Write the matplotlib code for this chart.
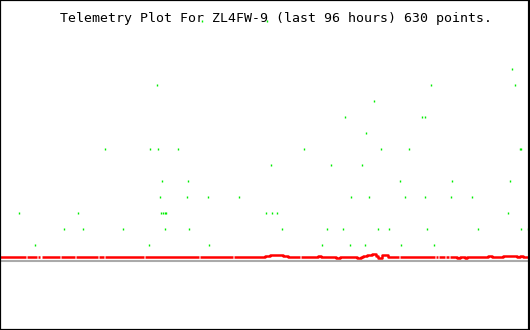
import numpy as np
import matplotlib
matplotlib.use("Agg")
import matplotlib.pyplot as plt

title = "Telemetry Plot For ZL4FW-9 (last 96 hours) 630 points."

# green channel: (hours, level)
green_hours = [36.5, 48.3,
               92.8,
               28.5, 78.1, 93.3,
               67.8,
               62.4, 76.5, 76.9,
               66.3,
               19.1, 27.2, 28.7, 32.3, 55.1, 69.1, 74.1, 94.1, 94.3,
               49.1, 60.0, 65.6,
               29.4, 34.1, 72.5, 81.9, 92.4,
               28.9, 33.9, 37.7, 43.3, 63.6, 66.9, 73.4, 77.0, 81.7, 85.5,
               3.5, 14.2, 29.2, 29.6, 29.9, 30.1, 48.2, 49.3, 50.2, 92.1,
               11.6, 15.1, 22.2, 29.8, 34.3, 51.1, 59.3, 62.2, 68.5, 70.5, 77.4, 86.6, 94.4, 95.7,
               6.4, 27.0, 37.9, 58.4, 63.4, 66.2, 72.7, 78.7]
green_level = [15, 15,
               12,
               11, 11, 11,
               10,
               9, 9, 9,
               8,
               7, 7, 7, 7, 7, 7, 7, 7, 7,
               6, 6, 6,
               5, 5, 5, 5, 5,
               4, 4, 4, 4, 4, 4, 4, 4, 4, 4,
               3, 3, 3, 3, 3, 3, 3, 3, 3, 3,
               2, 2, 2, 2, 2, 2, 2, 2, 2, 2, 2, 2, 2, 2,
               1, 1, 1, 1, 1, 1, 1, 1]

# red channel, step breakpoints (nan = missing)
nan = np.nan
red_hours = [0.0, 4.71, 4.89, 6.70, 6.88, 7.25, 7.52, 10.87, 11.05, 13.58,
             13.77, 17.75, 17.93, 18.84, 19.02, 26.08, 26.26, 36.05, 36.23, 42.20,
             42.38, 48.0, 48.91, 51.26, 52.16, 54.43, 54.61, 57.60, 58.14, 60.86,
             61.58, 64.66, 65.39, 65.75, 66.47, 67.38, 68.10, 68.47, 69.19, 70.28,
             72.27, 72.45, 78.88, 79.06, 79.34, 79.52, 79.97, 80.15, 80.60, 80.78,
             81.33, 81.51, 82.78, 83.32, 84.23, 84.59, 88.39, 89.12, 91.11, 93.64,
             94.19, 94.73, 95.7]
red_value = [0.25, nan, 0.25, nan, 0.25, nan, 0.25, nan, 0.25, nan,
             0.25, nan, 0.25, nan, 0.25, nan, 0.25, nan, 0.25, nan,
             0.25, 0.31, 0.375, 0.31, 0.25, nan, 0.25, 0.31, 0.25, 0.19,
             0.25, 0.19, 0.25, 0.31, 0.375, 0.44, 0.31, 0.19, 0.375, 0.25,
             nan, 0.25, nan, 0.25, nan, 0.25, nan, 0.25, nan, 0.25,
             nan, 0.25, 0.19, 0.25, 0.19, 0.25, 0.31, 0.25, 0.31, 0.25,
             0.31, 0.25, 0.25]

fig = plt.figure(figsize=(5.3, 3.3), dpi=100)
ax = fig.add_axes([0, 0, 1, 1])

ax.axhline(0, color="#aaaaaa", lw=1.5)
ax.plot(red_hours, red_value, drawstyle="steps-post", color="#ff0000",
        lw=1.8, solid_capstyle="butt")
ax.plot(green_hours, green_level, ls="none", marker="|", ms=1.8,
        mew=1.0, color="#00ee00")

ax.set_xlim(0, 96)
ax.set_ylim(-4.33, 16.29)
ax.set_xticks([])
ax.set_yticks([])
for s in ax.spines.values():
    s.set_color("black")
    s.set_linewidth(1.6)
ax.spines["right"].set_linewidth(3)

fig.text(60 / 530, 1 - 21.7 / 330, title, fontfamily="DejaVu Sans Mono",
         fontsize=9.5, va="baseline", ha="left")

fig.savefig("out.png", dpi=100)
